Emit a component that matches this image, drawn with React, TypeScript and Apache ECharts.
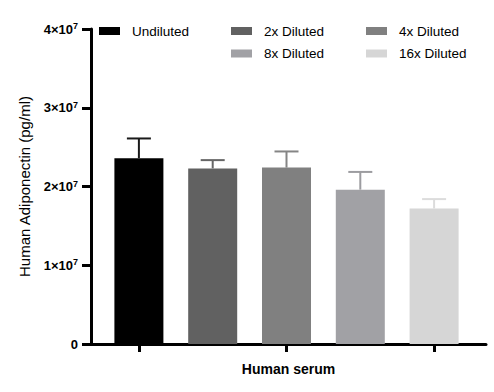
import React, { useEffect, useRef } from "react";
import * as echarts from "echarts";

const categories = ["Undiluted", "2x Diluted", "4x Diluted", "8x Diluted", "16x Diluted"];
const means = [2.36e7, 2.23e7, 2.24e7, 1.96e7, 1.72e7];
const errors = [0.25e7, 0.105e7, 0.205e7, 0.225e7, 0.12e7];
const yTickExponents = ["0", "1×10", "2×10", "3×10", "4×10"];
const barColors = ["#000000", "#616161", "#808080", "#a1a1a5", "#d6d6d6"];
const errColors = ["#1a1a1a", "#666666", "#858585", "#9c9ca0", "#dcdcdc"];

const FONT = "'Liberation Sans', Arial, sans-serif";

export default function App() {
  const ref = useRef<HTMLDivElement>(null);
  useEffect(() => {
    if (!ref.current) return;
    const chart = echarts.init(ref.current, null, { renderer: "svg" });
    const barSeries = categories.map((name, i) => ({
      type: "bar",
      name,
      xAxisIndex: 1,
      yAxisIndex: 1,
      barWidth: 49,
      barGap: "-100%",
      data: means.map((v, j) => (j === i ? v : "-")),
      itemStyle: { color: barColors[i] },
    }));
    const legendBase = {
      orient: "vertical",
      icon: "rect",
      padding: 0,
      itemWidth: 21,
      itemHeight: 8,
      itemGap: 8.5,
      textStyle: { fontFamily: FONT, fontSize: 13.5, color: "#000", padding: [0, 0, 0, 7] },
    };
    chart.setOption({
      animation: false,
      textStyle: { fontFamily: FONT },
      legend: [
        { ...legendBase, left: 99, top: 24, data: [categories[0]] },
        { ...legendBase, left: 231, top: 24, data: [categories[1], categories[3]] },
        { ...legendBase, left: 366, top: 24, data: [categories[2], categories[4]] },
      ],
      grid: [
        { left: 91, right: 8, top: 29, bottom: 48 },
        { left: 102, width: 369, top: 29, bottom: 48 },
      ],
      xAxis: [
        {
          type: "value",
          gridIndex: 0,
          min: 0,
          max: 1,
          axisLine: { show: true, lineStyle: { color: "#000", width: 3 } },
          axisTick: { show: false },
          axisLabel: { show: false },
          splitLine: { show: false },
          name: "Human serum",
          nameLocation: "middle",
          nameGap: 18,
          nameTextStyle: { fontFamily: FONT, fontSize: 14, fontWeight: "bold", color: "#000" },
        },
        {
          type: "category",
          gridIndex: 1,
          data: categories,
          axisLine: { show: false },
          axisTick: { show: true, alignWithLabel: true, length: 8, lineStyle: { color: "#000", width: 3 } },
          axisLabel: { show: false },
          splitLine: { show: false },
        },
      ],
      yAxis: [
        {
          type: "value",
          gridIndex: 0,
          min: 0,
          max: 4e7,
          interval: 1e7,
          axisLine: { show: true, lineStyle: { color: "#000", width: 3 } },
          axisTick: { show: true, length: 9, lineStyle: { color: "#000", width: 3 } },
          splitLine: { show: false },
          axisLabel: {
            margin: 13,
            formatter: (v: number) => {
              const i = Math.round(v / 1e7);
              if (i === 0) return "{a|0}";
              return `{a|${yTickExponents[i]}}{s|7}`;
            },
            rich: {
              a: { fontFamily: FONT, fontSize: 13, fontWeight: "bold", color: "#000" },
              s: { fontFamily: FONT, fontSize: 9, fontWeight: "bold", color: "#000", verticalAlign: "top", padding: [0, 0, 6, 0] },
            },
          },
          name: "Human Adiponectin (pg/ml)",
          nameLocation: "middle",
          nameGap: 59,
          nameTextStyle: { fontFamily: FONT, fontSize: 15, color: "#000" },
        },
        {
          type: "value",
          gridIndex: 1,
          min: 0,
          max: 4e7,
          show: false,
        },
      ],
      series: [
        ...barSeries,
        {
          type: "custom",
          xAxisIndex: 1,
          yAxisIndex: 1,
          z: 3,
          encode: { x: 0, y: [1, 2] },
          data: means.map((m, i) => [i, m, m + errors[i]]),
          renderItem: (params: any, api: any) => {
            const x = api.value(0);
            const p0 = api.coord([x, api.value(1)]);
            const p1 = api.coord([x, api.value(2)]);
            const c = errColors[params.dataIndex];
            return {
              type: "group",
              children: [
                { type: "line", shape: { x1: p0[0], y1: p0[1], x2: p1[0], y2: p1[1] }, style: { stroke: c, lineWidth: 2 } },
                { type: "line", shape: { x1: p1[0] - 12, y1: p1[1], x2: p1[0] + 12, y2: p1[1] }, style: { stroke: c, lineWidth: 2 } },
              ],
            };
          },
        },
      ],
    });
    return () => chart.dispose();
  }, []);
  return <div ref={ref} style={{ width: 494, height: 392, position: "absolute", left: 0, top: 0 }} />;
}
